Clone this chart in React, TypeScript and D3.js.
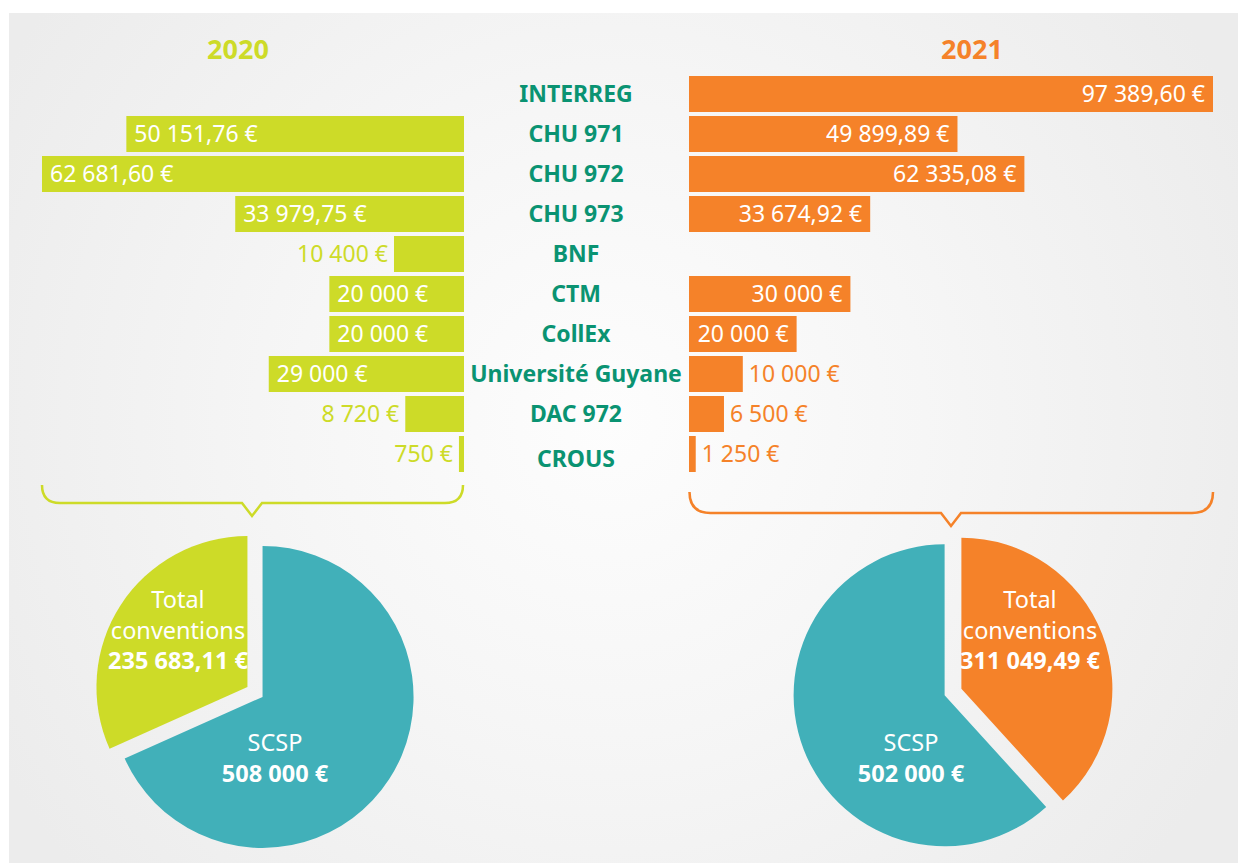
import * as d3 from 'd3';

// rows of the bar chart, top to bottom
const categories = ['INTERREG', 'CHU 971', 'CHU 972', 'CHU 973', 'BNF', 'CTM', 'CollEx', 'Université Guyane', 'DAC 972', 'CROUS'];
const values2020: (number | null)[] = [null, 50151.76, 62681.6, 33979.75, 10400, 20000, 20000, 29000, 8720, 750];
const values2021: (number | null)[] = [97389.6, 49899.89, 62335.08, 33674.92, null, 30000, 20000, 10000, 6500, 1250];

// pies: slices in clockwise order from 12 o'clock
const pieNames2020 = ['SCSP', 'Total conventions'];
const pieValues2020 = [508000, 235683.11];
const pieNames2021 = ['Total conventions', 'SCSP'];
const pieValues2021 = [311049.49, 502000];

const years = ['2020', '2021'];

const YELLOW = '#cddb28';
const ORANGE = '#f58229';
const TEAL = '#41b0b9';
const GREEN = '#0a9372';
const FONT = "'Noto Sans', 'Open Sans', sans-serif";

const fmt = (v: number) => {
  const isInt = Math.abs(v - Math.round(v)) < 1e-9;
  const [intPart, dec] = v.toFixed(isInt ? 0 : 2).split('.');
  const grouped = intPart.replace(/\B(?=(\d{3})+(?!\d))/g, ' ');
  return (dec ? `${grouped},${dec}` : grouped) + ' €';
};

const y = d3.scaleBand<string>().domain(categories).range([76, 472]).paddingInner(0.1).paddingOuter(0);
const xLeft = d3.scaleLinear().domain([0, 62681.6]).range([464, 42]);
const xRight = d3.scaleLinear().domain([0, 97389.6]).range([689, 1213]);

const Bracket = ({ x0, x1, top, bottom, tipX, tipY, r, color }: any) => {
  const half = 10;
  const path = d3.path();
  path.moveTo(x0, top);
  path.lineTo(x0, bottom - r);
  path.quadraticCurveTo(x0, bottom, x0 + r, bottom);
  path.lineTo(tipX - half, bottom);
  path.lineTo(tipX, tipY);
  path.lineTo(tipX + half, bottom);
  path.lineTo(x1 - r, bottom);
  path.quadraticCurveTo(x1, bottom, x1, bottom - r);
  path.lineTo(x1, top);
  return <path d={path.toString()} fill="none" stroke={color} strokeWidth={2.5} />;
};

const Pie = ({ cx, cy, r, names, values, colors, labelPos }: any) => {
  const slices = d3.pie<number>().sort(null).value((d) => d)(values);
  const arc = d3.arc<d3.PieArcDatum<number>>().innerRadius(0).outerRadius(r);
  const explode = 9;
  return (
    <g transform={`translate(${cx},${cy})`}>
      {slices.map((s, i) => {
        const mid = (s.startAngle + s.endAngle) / 2;
        const dx = Math.sin(mid) * explode;
        const dy = -Math.cos(mid) * explode;
        return <path key={i} d={arc(s) as string} fill={colors[i]} transform={`translate(${dx},${dy})`} />;
      })}
      {slices.map((s, i) => {
        const [lx, ly] = labelPos[i];
        const lines = names[i] === 'Total conventions' ? ['Total', 'conventions'] : [names[i]];
        return (
          <text key={'t' + i} x={lx} y={ly} textAnchor="middle" fill="#fff" fontSize={23.5} fontFamily={FONT}>
            {lines.map((l, j) => (
              <tspan key={j} x={lx} dy={j === 0 ? 0 : 30.5}>{l}</tspan>
            ))}
            <tspan x={lx} dy={30.5} fontWeight="bold">{fmt(values[i])}</tspan>
          </text>
        );
      })}
    </g>
  );
};

export default function App() {
  const bw = y.bandwidth();
  return (
    <svg width={1238} height={863} style={{ display: 'block', position: 'absolute', left: 0, top: 0 }}>
      <defs>
        <radialGradient id="bg" cx="610" cy="420" r="700" gradientUnits="userSpaceOnUse">
          <stop offset="0" stopColor="#fdfdfd" />
          <stop offset="0.45" stopColor="#f6f6f6" />
          <stop offset="1" stopColor="#ececec" />
        </radialGradient>
      </defs>
      <rect x={0} y={0} width={1238} height={863} fill="#fff" />
      <rect x={9} y={13} width={1229} height={850} fill="url(#bg)" />

      <text x={238} y={59} textAnchor="middle" fill={YELLOW} fontSize={27} fontWeight="bold" fontFamily={FONT}>{years[0]}</text>
      <text x={972} y={59} textAnchor="middle" fill={ORANGE} fontSize={27} fontWeight="bold" fontFamily={FONT}>{years[1]}</text>

      {categories.map((c, i) => {
        const yy = y(c)!;
        const v0 = values2020[i];
        const v1 = values2021[i];
        const mid = yy + bw / 2;
        return (
          <g key={c}>
            <text x={576} y={mid + 8 + (i === categories.length - 1 ? 5 : 0)} textAnchor="middle" fill={GREEN} fontSize={23} fontWeight="bold" fontFamily={FONT}>{c}</text>
            {v0 != null && (() => {
              const x = xLeft(v0);
              const w = xLeft(0) - x;
              const inside = w > 110;
              return (
                <g>
                  <rect x={x} y={yy} width={w} height={bw} fill={YELLOW} />
                  <text x={inside ? x + 8 : x - 6} y={mid + 8} textAnchor={inside ? 'start' : 'end'} fill={inside ? '#fff' : YELLOW} fontSize={23} fontFamily={FONT}>{fmt(v0)}</text>
                </g>
              );
            })()}
            {v1 != null && (() => {
              const x0 = xRight(0);
              const x = xRight(v1);
              const w = x - x0;
              const inside = w > 100;
              return (
                <g>
                  <rect x={x0} y={yy} width={w} height={bw} fill={ORANGE} />
                  <text x={inside ? x - 8 : x + 6} y={mid + 8} textAnchor={inside ? 'end' : 'start'} fill={inside ? '#fff' : ORANGE} fontSize={23} fontFamily={FONT}>{fmt(v1)}</text>
                </g>
              );
            })()}
          </g>
        );
      })}

      <Bracket x0={42} x1={463} top={486} bottom={503} tipX={252} tipY={516} r={18} color={YELLOW} />
      <Bracket x0={689.5} x1={1213} top={493} bottom={513} tipX={951} tipY={526} r={21} color={ORANGE} />

      <Pie cx={255} cy={692} r={151} names={pieNames2020} values={pieValues2020} colors={[TEAL, YELLOW]}
        labelPos={[[20, 59], [-77, -84]]} />
      <Pie cx={953} cy={692} r={151} names={pieNames2021} values={pieValues2021} colors={[ORANGE, TEAL]}
        labelPos={[[77, -84], [-42, 59]]} />
    </svg>
  );
}
